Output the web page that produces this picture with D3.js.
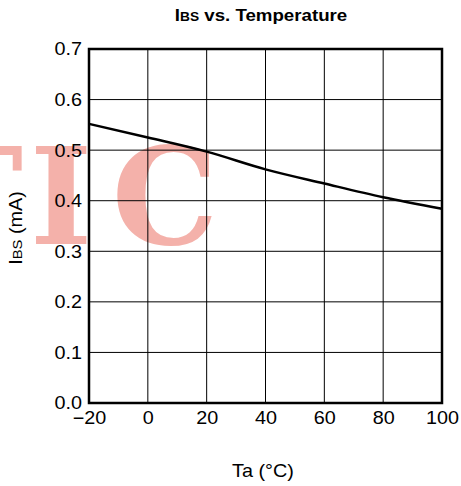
<!DOCTYPE html>
<html>
<head>
<meta charset="utf-8">
<script src="https://cdn.jsdelivr.net/npm/d3@7"></script>
<style>
  html, body { margin: 0; padding: 0; background: #fff; }
  svg { display: block; }
</style>
</head>
<body>
<svg id="chart" width="461" height="486"></svg>
<script>
// ---- data ----
const temperatures = [-20, 0, 20, 40, 60, 80, 100];
const ibsValues = [0.552, 0.525, 0.497, 0.462, 0.434, 0.407, 0.384];
const xTicks = [-20, 0, 20, 40, 60, 80, 100];
const yTicks = [0, 0.1, 0.2, 0.3, 0.4, 0.5, 0.6, 0.7];
const xTickLabels = ["\u221220", "0", "20", "40", "60", "80", "100"];
const yTickLabels = ["0.0", "0.1", "0.2", "0.3", "0.4", "0.5", "0.6", "0.7"];
const watermarkLetters = ["T", "I", "C"];

// ---- layout ----
const SANS = "'Liberation Sans', Arial, sans-serif";
const svg = d3.select("#chart");
const pL = 89, pR = 442, pT = 49, pB = 403;
const x = d3.scaleLinear().domain([-20, 100]).range([pL, pR]);
const y = d3.scaleLinear().domain([0, 0.7]).range([pB, pT]);
const sx = 1.1; // horizontal stretch of text

function stretchedText(g, px, py, anchor, size, weight) {
  return g.append("text")
    .attr("transform", `translate(${px},${py}) scale(${sx},1)`)
    .attr("text-anchor", anchor)
    .attr("font-family", SANS)
    .attr("font-size", size)
    .attr("font-weight", weight || "normal")
    .attr("fill", "#000");
}

// watermark (behind everything)
const wmX = [-27, 61, 165];
const wm = svg.append("g").attr("class", "watermark");
wm.selectAll("text").data(watermarkLetters).join("text")
  .attr("x", (d, i) => wmX[i])
  .attr("y", 244)
  .attr("text-anchor", "middle")
  .attr("font-family", "'DejaVu Serif', serif")
  .attr("font-weight", "bold")
  .attr("font-size", 134)
  .attr("fill", "#f4b1aa")
  .text(d => d);

// grid
const grid = svg.append("g");
grid.selectAll("line.v").data(xTicks.slice(1, -1)).join("line").attr("class", "v")
  .attr("x1", d => x(d)).attr("x2", d => x(d))
  .attr("y1", pT).attr("y2", pB)
  .attr("stroke", "#000").attr("stroke-width", 1);
grid.selectAll("line.h").data(yTicks.slice(1, -1)).join("line").attr("class", "h")
  .attr("y1", d => y(d)).attr("y2", d => y(d))
  .attr("x1", pL).attr("x2", pR)
  .attr("stroke", "#000").attr("stroke-width", 1);

// curve
const line = d3.line().x((d, i) => x(temperatures[i])).y(d => y(d)).curve(d3.curveMonotoneX);
svg.append("path").datum(ibsValues)
  .attr("d", line)
  .attr("fill", "none").attr("stroke", "#000").attr("stroke-width", 2.5);

// frame
svg.append("rect")
  .attr("x", pL).attr("y", pT)
  .attr("width", pR - pL).attr("height", pB - pT)
  .attr("fill", "none").attr("stroke", "#000").attr("stroke-width", 2.5);

// axes using d3 axis (labels only)
const xAxis = svg.append("g").attr("transform", `translate(0,${pB})`)
  .call(d3.axisBottom(x).tickValues(xTicks).tickSize(0).tickPadding(0).tickFormat((d, i) => xTickLabels[i]));
xAxis.select(".domain").remove();
xAxis.selectAll(".tick line").remove();
xAxis.selectAll("text")
  .attr("font-family", SANS)
  .attr("font-size", 18).attr("fill", "#000")
  .attr("dy", null).attr("y", 21)
  .attr("transform", `scale(${sx},1)`)
  .attr("x", 0);

const yAxis = svg.append("g").attr("transform", `translate(${pL},0)`)
  .call(d3.axisLeft(y).tickValues(yTicks).tickSize(0).tickPadding(0).tickFormat((d, i) => yTickLabels[i]));
yAxis.select(".domain").remove();
yAxis.selectAll(".tick line").remove();
yAxis.selectAll("text")
  .attr("font-family", SANS)
  .attr("font-size", 18).attr("fill", "#000")
  .attr("x", -7 / sx).attr("dy", "0.33em")
  .attr("transform", `scale(${sx},1)`);

// title
const title = stretchedText(svg, 261, 21, "middle", 17, "bold");
title.append("tspan").text("I");
title.append("tspan").attr("font-size", 12.5).text("BS");
title.append("tspan").text(" vs. Temperature");

// y label
const yl = svg.append("text")
  .attr("transform", `translate(22,228) rotate(-90) scale(${sx},1)`)
  .attr("text-anchor", "middle").attr("font-family", SANS).attr("font-size", 18).attr("fill", "#000");
yl.append("tspan").text("I");
yl.append("tspan").attr("font-size", 13.5).text("BS");
yl.append("tspan").text(" (mA)");

// x label
stretchedText(svg, 263, 477, "middle", 18).text("Ta (\u00B0C)");
</script>
</body>
</html>
